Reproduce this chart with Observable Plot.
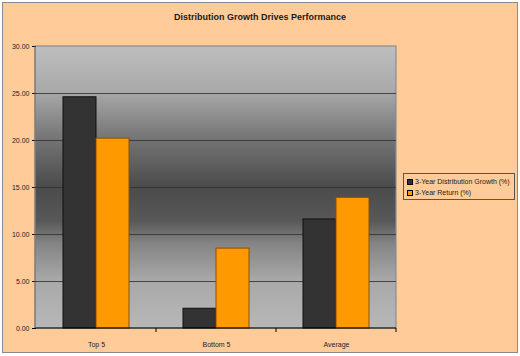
<!DOCTYPE html>
<html>
<head>
<meta charset="utf-8">
<script src="https://cdn.jsdelivr.net/npm/d3@7"></script>
<script src="https://cdn.jsdelivr.net/npm/@observablehq/plot@0.6"></script>
<style>
  html, body { margin: 0; padding: 0; background: #ffffff; }
  #page { position: relative; width: 520px; height: 356px; overflow: hidden; font-family: "Liberation Sans", Arial, sans-serif; }
  #bg { position: absolute; left: 2px; top: 2px; width: 514px; height: 349px; background: #FFCC99; border: 1px solid #8a8a8a; }
  #chart { position: absolute; left: 0; top: 0; }
  #title { position: absolute; left: 0; width: 520px; top: 12px; text-align: center; font-weight: bold; font-size: 9px; color: #1a1a1a; }
  #legend { position: absolute; left: 403px; top: 173px; width: 112px; height: 27px; border: 1px solid #555; box-sizing: border-box; padding: 2px 0 0 3px; font-size: 7px; color: #1a1a1a; }
  .item { display: flex; align-items: center; height: 11px; white-space: nowrap; }
  .sw { width: 4px; height: 4px; border: 1px solid #000; margin-right: 2px; }
</style>
</head>
<body>
<div id="page">
  <div id="bg"></div>
  <div id="chart"></div>
  <div id="title"></div>
  <div id="legend"></div>
</div>
<script>
const title = "Distribution Growth Drives Performance";
const categories = ["Top 5", "Bottom 5", "Average"];
const seriesNames = ["3-Year Distribution Growth (%)", "3-Year Return (%)"];
const growth = [24.6, 2.1, 11.6];
const returns = [20.2, 8.5, 13.9];
const yTicks = [0, 5, 10, 15, 20, 25, 30];
const seriesFill = ["#333333", "#FF9900"];
const seriesStroke = ["#111111", "#8a5000"];

(function () {
const data = categories.flatMap((c, i) => [
  {cat: c, series: seriesNames[0], value: growth[i]},
  {cat: c, series: seriesNames[1], value: returns[i]}
]);

const plot = Plot.plot({
  width: 520,
  height: 356,
  marginLeft: 35,
  marginRight: 124,
  marginTop: 46,
  marginBottom: 28,
  style: {background: "transparent", fontFamily: "'Liberation Sans', Arial, sans-serif", fontSize: "7px", color: "#222"},
  fx: {domain: categories, padding: 0, label: null},
  x: {domain: seriesNames, axis: null, paddingInner: 0, paddingOuter: 0.765},
  y: {domain: [0, 30], label: null},
  marks: [
    Plot.gridY(yTicks.filter(t => t > 0 && t < 30), {stroke: "#333", strokeOpacity: 0.85, strokeWidth: 1}),
    ...seriesNames.map((s, k) => Plot.barY(data.filter(d => d.series === s), {
      fx: "cat", x: "series", y: "value", fill: seriesFill[k], stroke: seriesStroke[k], strokeWidth: 1
    })),
    Plot.axisY(yTicks, {tickFormat: d => d.toFixed(2), tickSize: 4, tickPadding: 3, label: null, stroke: "#000", fill: "#222"}),
    Plot.axisFx({anchor: "bottom", tickSize: 0, tickPadding: 14, label: null, fill: "#222"})
  ]
});

// Plot-area background gradient and frame, placed from the scales
const ys = plot.scale("y"), fxs = plot.scale("fx");
const yTop = Math.min(...ys.range), yBot = Math.max(...ys.range);
const xL = Math.min(...fxs.range), xR = Math.max(...fxs.range);
const svg = d3.select(plot);
const defs = svg.insert("defs", ":first-child");
const g = defs.append("linearGradient").attr("id", "bggrad").attr("x1", 0).attr("y1", 0).attr("x2", 0).attr("y2", 1);
[[0, "#bebebe"], [0.16, "#a9a9a9"], [0.33, "#747474"], [0.5, "#4b4b4b"], [0.62, "#585858"],
 [0.7, "#848484"], [0.83, "#a8a8a8"], [1, "#b8b8b8"]]
  .forEach(([o, c]) => g.append("stop").attr("offset", o).attr("stop-color", c));
svg.insert("rect", "defs + *")
  .attr("x", xL).attr("y", yTop).attr("width", xR - xL).attr("height", yBot - yTop)
  .attr("fill", "url(#bggrad)").attr("stroke", "#8c8c8c").attr("stroke-width", 1.2);
const bTicks = svg.append("g").attr("stroke", "#000");
categories.forEach(c => {
  const xr = fxs.apply(c) + fxs.bandwidth;
  bTicks.append("line").attr("x1", xr).attr("x2", xr).attr("y1", yBot).attr("y2", yBot + 4);
});
svg.append("line").attr("x1", xL).attr("x2", xR).attr("y1", yBot).attr("y2", yBot).attr("stroke", "#000");
svg.append("line").attr("x1", xL).attr("x2", xL).attr("y1", yTop).attr("y2", yBot).attr("stroke", "#777");

document.getElementById("chart").appendChild(plot);
document.getElementById("title").textContent = title;
const lg = d3.select("#legend");
seriesNames.forEach((s, k) => {
  const it = lg.append("div").attr("class", "item");
  it.append("div").attr("class", "sw").style("background", seriesFill[k]);
  it.append("span").text(s);
});
})();
</script>
</body>
</html>
